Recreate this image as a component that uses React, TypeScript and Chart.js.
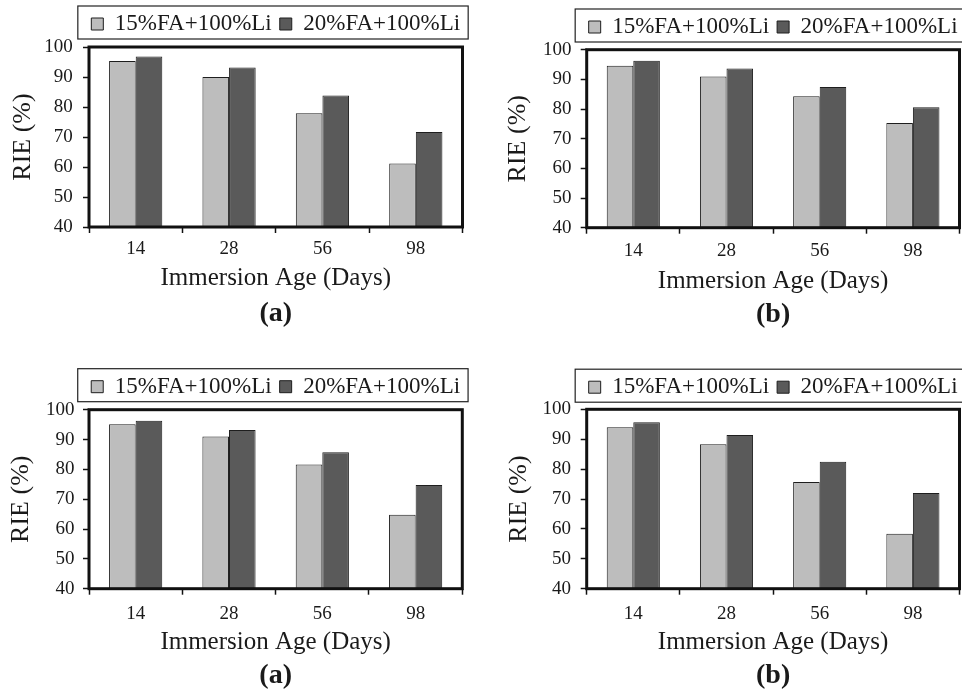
import React, { useEffect, useRef } from 'react';
import { Chart, registerables } from 'chart.js';

Chart.register(...registerables);

// ---------------- data ----------------
const categories = ['14', '28', '56', '98'];
const seriesNames = ['15%FA+100%Li', '20%FA+100%Li'];
const panelLabels = ['(a)', '(b)', '(a)', '(b)'];
const yMin = 40;
const yMax = 100;
const yStep = 10;
const yTitle = 'RIE (%)';
const xTitle = 'Immersion Age (Days)';

const topLeftLight = [95.3, 90.0, 77.9, 61.2];
const topLeftDark = [96.8, 93.2, 83.8, 71.7];
const topRightLight = [94.6, 91.0, 84.3, 75.3];
const topRightDark = [96.3, 93.7, 87.4, 80.6];
const bottomLeftLight = [95.1, 91.0, 81.6, 64.8];
const bottomLeftDark = [96.3, 93.2, 85.7, 74.8];
const bottomRightLight = [94.0, 88.3, 75.7, 58.4];
const bottomRightDark = [95.7, 91.4, 82.5, 72.0];

// ---------------- style / layout ----------------
const FONT = "'Liberation Serif', 'Times New Roman', serif";
const LIGHT = '#bdbdbd';
const DARK = '#5a5a5a';
const EDGE = '#1e1e1e';
const TEXT = '#1a1a1a';

const LEGEND_FONT = 23;
const LEGEND_PAD = 8;
const TICK_FONT = 19;
const XTITLE_FONT = 25;
const YTITLE_FONT = 26;
const PANEL_FONT = 28;
const TICK_LEN = 6;

type Spec = {
  canvasLeft: number;
  canvasTop: number;
  l: number; r: number; t: number; b: number;
  legendTextY: number;
  yTitleX: number;
  yLabelRight: number;
  xTickY: number;
  xTitleY: number;
  panelY: number;
};

const specs: Spec[] = [
  { canvasLeft: 0, canvasTop: 0, l: 89, r: 462.5, t: 47, b: 227, legendTextY: 24, yTitleX: 23, yLabelRight: 72.8, xTickY: 249.5, xTitleY: 278, panelY: 314 },
  { canvasLeft: 498, canvasTop: 0, l: 586.7, r: 959.5, t: 49.7, b: 227.7, legendTextY: 27, yTitleX: 518, yLabelRight: 571.5, xTickY: 250.8, xTitleY: 281, panelY: 315 },
  { canvasLeft: 0, canvasTop: 340, l: 89, r: 462.3, t: 409.7, b: 588.7, legendTextY: 386.7, yTitleX: 21, yLabelRight: 74.5, xTickY: 613.8, xTitleY: 642.5, panelY: 676 },
  { canvasLeft: 498, canvasTop: 340, l: 586.7, r: 959.5, t: 409.3, b: 588.7, legendTextY: 387.2, yTitleX: 519, yLabelRight: 571, xTickY: 613.8, xTitleY: 642.8, panelY: 676 },
];

const panelData = [
  [topLeftLight, topLeftDark],
  [topRightLight, topRightDark],
  [bottomLeftLight, bottomLeftDark],
  [bottomRightLight, bottomRightDark],
];

function geometry(s: Spec) {
  const wy = s.l - s.canvasLeft;
  const wRaw = wy + (s.r - s.l) + wy;
  const cw = Math.ceil(wRaw);
  const padRight = cw - wRaw;
  const legendH = LEGEND_FONT + LEGEND_PAD + 10;
  const padTop = s.legendTextY - s.canvasTop - LEGEND_PAD - LEGEND_FONT / 2;
  const gapTop = Math.max(0, s.t - s.canvasTop - padTop - legendH);
  const yTitlePad = s.yTitleX - s.canvasLeft - (YTITLE_FONT * 1.2) / 2;
  const yTickPad = s.l - TICK_LEN - s.yLabelRight;
  const xTickPad = s.xTickY - s.b - TICK_LEN - (TICK_FONT * 1.2) / 2;
  const hx = s.xTitleY + (XTITLE_FONT * 1.2) / 2 - s.b;
  const titlePadTop = s.panelY - (s.b + hx) - (PANEL_FONT * 1.2) / 2;
  const hRaw = s.b + hx + PANEL_FONT * 1.2 + titlePadTop - s.canvasTop;
  const ch = Math.ceil(hRaw);
  const padBottom = ch - hRaw;
  return { wy, cw, ch, padRight, padTop, padBottom, gapTop, yTitlePad, yTickPad, xTickPad, hx, titlePadTop };
}

const framePlugin = {
  id: 'frame',
  afterDatasetsDraw(chart: any) {
    const { ctx, chartArea: a } = chart;
    ctx.save();
    ctx.strokeStyle = '#111';
    ctx.lineWidth = 3;
    ctx.strokeRect(a.left, a.top, a.right - a.left, a.bottom - a.top);
    ctx.restore();
  },
};

const legendBoxPlugin = {
  id: 'legendBox',
  afterDraw(chart: any) {
    const lg = chart.legend;
    if (!lg || !lg.legendHitBoxes || !lg.legendHitBoxes.length) return;
    const hb = lg.legendHitBoxes;
    const last = hb[hb.length - 1];
    const center = hb[0].top + LEGEND_FONT / 2;
    const left = hb[0].left - 13.5;
    const right = last.left + last.width + 8;
    const top = center - 18;
    const bottom = center + 15;
    const { ctx } = chart;
    ctx.save();
    ctx.strokeStyle = '#222';
    ctx.lineWidth = 1.2;
    ctx.strokeRect(left, top, right - left, bottom - top);
    ctx.restore();
  },
};

function Panel({ idx }: { idx: number }) {
  const ref = useRef<HTMLCanvasElement>(null);
  const s = specs[idx];
  const g = geometry(s);

  useEffect(() => {
    if (!ref.current) return;
    const [light, dark] = panelData[idx];
    const chart = new Chart(ref.current, {
      type: 'bar',
      data: {
        labels: categories,
        datasets: [
          {
            label: seriesNames[0],
            data: light,
            backgroundColor: LIGHT,
            borderColor: EDGE,
            borderWidth: 1,
            borderSkipped: false,
            xAxisID: 'x',
            yAxisID: 'y',
            categoryPercentage: 0.57,
            barPercentage: 1.0,
          },
          {
            label: seriesNames[1],
            data: dark,
            backgroundColor: DARK,
            borderColor: EDGE,
            borderWidth: 1,
            borderSkipped: false,
            xAxisID: 'x',
            yAxisID: 'y',
            categoryPercentage: 0.57,
            barPercentage: 1.0,
          },
        ],
      },
      options: {
        responsive: false,
        animation: false,
        devicePixelRatio: 1,
        layout: {
          padding: { left: 0, right: g.padRight, top: g.padTop, bottom: g.padBottom },
        },
        plugins: {
          legend: {
            display: true,
            position: 'top',
            align: 'center',
            labels: {
              boxWidth: 12,
              boxHeight: 12,
              padding: LEGEND_PAD,
              color: TEXT,
              font: { family: FONT, size: LEGEND_FONT },
            },
          },
          title: {
            display: true,
            position: 'bottom',
            text: panelLabels[idx],
            color: TEXT,
            font: { family: FONT, size: PANEL_FONT, weight: 'bold' },
            padding: { top: g.titlePadTop, bottom: 0 },
          },
          tooltip: { enabled: false },
        },
        scales: {
          x: {
            type: 'category',
            position: 'bottom',
            offset: true,
            grid: {
              display: true,
              offset: true,
              drawOnChartArea: false,
              drawTicks: true,
              tickLength: TICK_LEN,
              tickColor: '#111',
              tickWidth: 1.5,
              color: '#111',
            },
            border: { display: false },
            ticks: {
              color: TEXT,
              padding: g.xTickPad,
              font: { family: FONT, size: TICK_FONT },
            },
            title: {
              display: true,
              text: xTitle,
              color: TEXT,
              font: { family: FONT, size: XTITLE_FONT },
              padding: { top: 0, bottom: 0 },
            },
            afterFit: (sc: any) => {
              sc.height = g.hx;
            },
          },
          xT: {
            type: 'category',
            position: 'top',
            display: true,
            grid: { display: false },
            ticks: { display: false },
            border: { display: false },
            afterFit: (sc: any) => {
              sc.height = g.gapTop;
            },
          },
          y: {
            type: 'linear',
            position: 'left',
            min: yMin,
            max: yMax,
            grid: {
              display: true,
              drawOnChartArea: false,
              drawTicks: true,
              tickLength: TICK_LEN,
              tickColor: '#111',
              tickWidth: 1.5,
              color: '#111',
            },
            border: { display: false },
            ticks: {
              stepSize: yStep,
              color: TEXT,
              padding: g.yTickPad,
              font: { family: FONT, size: TICK_FONT },
            },
            title: {
              display: true,
              text: yTitle,
              color: TEXT,
              font: { family: FONT, size: YTITLE_FONT },
              padding: { top: g.yTitlePad, bottom: 0 },
            },
            afterFit: (sc: any) => {
              sc.width = g.wy;
            },
          },
          yR: {
            type: 'linear',
            position: 'right',
            display: true,
            grid: { display: false },
            ticks: { display: false },
            border: { display: false },
            afterFit: (sc: any) => {
              sc.width = g.wy;
            },
          },
        },
      } as any,
      plugins: [framePlugin, legendBoxPlugin],
    });
    return () => chart.destroy();
  }, [idx]);

  return (
    <canvas
      ref={ref}
      width={g.cw}
      height={g.ch}
      style={{ position: 'absolute', left: s.canvasLeft, top: s.canvasTop, width: g.cw, height: g.ch }}
    />
  );
}

export default function App() {
  return (
    <div
      style={{
        position: 'fixed',
        left: 0,
        top: 0,
        width: 962,
        height: 693,
        overflow: 'hidden',
        background: '#ffffff',
      }}
    >
      {specs.map((_, i) => (
        <Panel key={i} idx={i} />
      ))}
    </div>
  );
}
